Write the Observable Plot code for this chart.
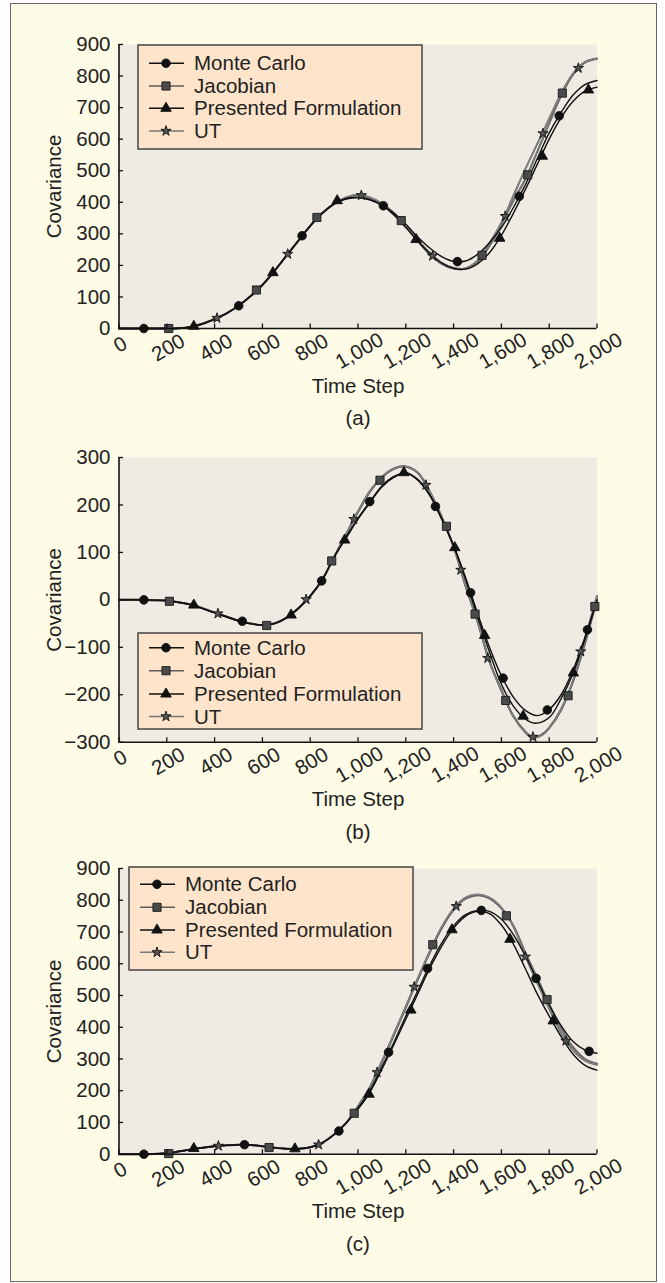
<!DOCTYPE html>
<html><head><meta charset="utf-8">
<script src="https://cdn.jsdelivr.net/npm/d3@7"></script>
<script src="https://cdn.jsdelivr.net/npm/@observablehq/plot@0.6"></script>
<style>
body{margin:0;background:#fff;}
#page{position:relative;width:665px;height:1283px;overflow:hidden;font-family:"Liberation Sans",Arial,Helvetica,sans-serif;}
#frame{position:absolute;left:10px;top:3px;width:647px;height:1279px;box-sizing:border-box;border:1.7px solid #666;background:#fefbe6;}
.panel{position:absolute;left:0;}
#overlay{position:absolute;left:0;top:0;}
</style></head><body><div id="page"><div id="frame"></div></div>
<script>
// ---------- shared ticks / labels ----------
const seriesNames = ["Monte Carlo", "Jacobian", "Presented Formulation", "UT"];
const xTicks = [0, 200, 400, 600, 800, 1000, 1200, 1400, 1600, 1800, 2000];
const aYTicks = [0, 100, 200, 300, 400, 500, 600, 700, 800, 900];
const bYTicks = [-300, -200, -100, 0, 100, 200, 300];
const cYTicks = [0, 100, 200, 300, 400, 500, 600, 700, 800, 900];
const captions = ["(a)", "(b)", "(c)"];
const xTitle = "Time Step";
const yTitle = "Covariance";

// ---------- panel (a) ----------
const aShared = [[0,0],[100,0],[200,0],[250,1],[300,5],[350,15],[400,30],[450,48],[500,72],[550,102],[600,138],[650,182],[700,230],[750,278],[800,325],[850,365],[900,395]];
const aMonteCarlo = aShared.concat([[950,412],[1000,415],[1050,408],[1100,392],[1150,365],[1200,330],[1250,290],[1300,255],[1350,228],[1400,213],[1450,214],[1500,235],[1550,272],[1600,320],[1650,383],[1700,455],[1750,538],[1800,620],[1850,685],[1900,740],[1950,773],[2000,786]]);
const aJacobian = aShared.concat([[950,414],[1000,422],[1050,413],[1100,395],[1150,365],[1200,325],[1250,280],[1300,240],[1350,208],[1400,192],[1450,190],[1500,212],[1550,262],[1600,330],[1650,405],[1700,473],[1750,560],[1800,650],[1850,738],[1900,805],[1950,843],[2000,855]]);
const aPresented = aShared.concat([[950,410],[1000,415],[1050,408],[1100,390],[1150,360],[1200,320],[1250,277],[1300,238],[1350,207],[1400,190],[1450,188],[1500,205],[1550,240],[1600,295],[1650,365],[1700,440],[1750,520],[1800,600],[1850,668],[1900,720],[1950,752],[2000,765]]);
const aUT = aShared.concat([[950,415],[1000,425],[1050,415],[1100,396],[1150,366],[1200,325],[1250,278],[1300,235],[1350,205],[1400,190],[1450,190],[1500,215],[1550,270],[1600,335],[1650,420],[1700,505],[1750,585],[1800,665],[1850,745],[1900,808],[1950,845],[2000,856]]);
const aMonteCarloMarks = [[104,0],[501,72],[766,294],[1106,389],[1416,212],[1675,419],[1842,674]];
const aJacobianMarks = [[208,0],[575,122],[828,352],[1181,342],[1519,232],[1710,487],[1855,746]];
const aPresentedMarks = [[313,7],[644,177],[913,405],[1243,282],[1593,286],[1771,546],[1964,756]];
const aUTMarks = [[410,33],[706,236],[1014,422],[1312,230],[1616,356],[1774,618],[1922,825]];

// ---------- panel (b) ----------
const bShared = [[0,0],[100,0],[200,-2],[300,-10],[400,-27],[500,-44],[550,-50],[600,-53],[650,-50],[700,-38],[750,-18],[800,8],[850,42],[900,90]];
const bMonteCarlo = bShared.concat([[950,132],[1000,172],[1050,207],[1100,240],[1150,260],[1200,268],[1250,254],[1300,222],[1350,172],[1400,115],[1450,47],[1500,-28],[1550,-100],[1600,-160],[1650,-205],[1700,-233],[1750,-244],[1800,-231],[1850,-200],[1900,-148],[1950,-78],[2000,0]]);
const bJacobian = bShared.concat([[950,138],[1000,185],[1050,228],[1100,258],[1150,276],[1190,281],[1250,268],[1300,228],[1350,175],[1400,112],[1450,30],[1500,-45],[1550,-130],[1600,-190],[1650,-245],[1700,-278],[1730,-290],[1775,-282],[1800,-270],[1850,-232],[1900,-172],[1950,-92],[2000,3]]);
const bPresented = bShared.concat([[950,130],[1000,170],[1050,205],[1100,238],[1150,258],[1200,267],[1250,252],[1300,220],[1350,170],[1400,114],[1450,43],[1500,-35],[1550,-110],[1600,-178],[1650,-224],[1700,-251],[1740,-260],[1800,-248],[1850,-208],[1900,-155],[1950,-82],[2000,-2]]);
const bUT = bShared.concat([[950,138],[1000,186],[1050,229],[1100,259],[1150,277],[1190,282],[1250,268],[1300,228],[1350,174],[1400,112],[1450,30],[1500,-45],[1550,-130],[1600,-192],[1650,-246],[1700,-279],[1730,-291],[1775,-283],[1800,-270],[1850,-230],[1900,-170],[1950,-82],[2000,8]]);
const bMonteCarloMarks = [[104,0],[516,-45],[848,40],[1049,207],[1324,197],[1471,15],[1607,-165],[1792,-232],[1960,-63]];
const bJacobianMarks = [[211,-3],[618,-54],[890,82],[1092,252],[1370,155],[1490,-30],[1618,-212],[1879,-202],[1991,-14]];
const bPresentedMarks = [[313,-11],[720,-32],[944,126],[1192,268],[1405,110],[1530,-75],[1691,-245],[1901,-154]];
const bUTMarks = [[414,-29],[783,1],[983,170],[1284,242],[1430,63],[1543,-123],[1732,-289],[1932,-109]];

// ---------- panel (c) ----------
const cShared = [[0,0],[100,0],[200,3],[300,15],[400,25],[450,28],[500,30],[550,29],[600,25],[650,20],[700,17],[750,17],[800,22],[850,36],[900,62],[950,98]];
const cMonteCarlo = cShared.concat([[1000,145],[1050,200],[1100,275],[1150,352],[1200,435],[1250,515],[1300,595],[1350,665],[1400,720],[1450,755],[1500,768],[1550,765],[1600,740],[1650,692],[1700,625],[1750,548],[1800,470],[1850,405],[1900,355],[1950,328],[2000,318]]);
const cJacobian = cShared.concat([[1000,150],[1050,210],[1100,290],[1150,375],[1200,462],[1250,550],[1300,635],[1350,712],[1400,770],[1450,805],[1500,816],[1550,806],[1600,775],[1650,720],[1700,635],[1750,555],[1800,472],[1850,397],[1900,337],[1950,300],[2000,285]]);
const cPresented = cShared.concat([[1000,142],[1050,195],[1100,268],[1150,345],[1200,425],[1250,505],[1300,585],[1350,655],[1400,712],[1450,750],[1500,765],[1550,758],[1600,722],[1650,662],[1700,585],[1750,505],[1800,435],[1850,370],[1900,315],[1950,280],[2000,265]]);
const cUT = cShared.concat([[1000,150],[1050,212],[1100,292],[1150,378],[1200,465],[1250,553],[1300,638],[1350,715],[1400,773],[1450,808],[1500,818],[1550,808],[1600,776],[1650,718],[1700,625],[1750,540],[1800,458],[1850,382],[1900,328],[1950,295],[2000,282]]);
const cMonteCarloMarks = [[104,0],[525,30],[920,73],[1128,321],[1291,585],[1516,768],[1745,554],[1967,324]];
const cJacobianMarks = [[208,2],[628,21],[984,129],[1313,660],[1621,751],[1791,487]];
const cPresentedMarks = [[313,18],[736,17],[1046,189],[1221,454],[1393,707],[1636,677],[1817,420]];
const cUTMarks = [[416,26],[835,30],[1080,258],[1235,527],[1411,781],[1700,622],[1870,357]];

// ---------- styles ----------
const FONT = "Liberation Sans, Arial, Helvetica, sans-serif";
const FS = 20.5;
const TXT = "#222";
const styles = [
  {line: "#111", lw: 1.4, inner: null, symbol: "circle", r: 4.3, fill: "#111", mstroke: "#111", legendLine: "#111"},
  {line: "#555", lw: 2.0, inner: "#9a9a9a", symbol: "square", r: 4.6, fill: "#4a4a4a", mstroke: "#1a1a1a", legendLine: "#5c5c5c"},
  {line: "#111", lw: 1.4, inner: null, symbol: "triangle", r: 3.9, fill: "#111", mstroke: "#111", legendLine: "#111"},
  {line: "#5e5e5e", lw: 2.0, inner: "#a5a5a5", symbol: "star", r: 3.2, fill: "#555", mstroke: "#111", legendLine: "#777"}
];

const panels = [
  {top: 4, plotH: 284, domain: [0, 900], yTicks: aYTicks, curves: [aMonteCarlo, aJacobian, aPresented, aUT], marks: [aMonteCarloMarks, aJacobianMarks, aPresentedMarks, aUTMarks],
   legend: {x: 138, y: 45, w: 284, h: 104, rows: [63.3, 86, 108.3, 131]}},
  {top: 417, plotH: 284.7, domain: [-300, 300], yTicks: bYTicks, curves: [bMonteCarlo, bJacobian, bPresented, bUT], marks: [bMonteCarloMarks, bJacobianMarks, bPresentedMarks, bUTMarks],
   legend: {x: 138, y: 633, w: 284, h: 96, rows: [647.7, 670.7, 694, 716.5]}},
  {top: 828, plotH: 285.7, domain: [0, 900], yTicks: cYTicks, curves: [cMonteCarlo, cJacobian, cPresented, cUT], marks: [cMonteCarloMarks, cJacobianMarks, cPresentedMarks, cUTMarks],
   legend: {x: 129, y: 867, w: 284, h: 103, rows: [884.3, 907.3, 930, 952.3]}}
];

const page = document.getElementById("page");
const fmt = d3.format(",");
const W = 665, ML = 118.5, MR = 68.5, H = 445, MT = 40;
const drawOrder = [1, 3, 0, 2];

panels.forEach((p, i) => {
  const [y0, y1] = p.domain;
  const mb = H - MT - p.plotH;
  const tickX = 4.5 * (y1 - y0) / p.plotH;
  const tickY = 4.5 * 2000 / (W - ML - MR);
  const lengths = Array.from(new Set(xTicks.map(t => fmt(t).length)));
  const lineMarks = [];
  drawOrder.forEach(k => {
    const c = p.curves[k], s = styles[k];
    lineMarks.push(Plot.line(c, {x: d => d[0], y: d => d[1], curve: "catmull-rom", stroke: s.line, strokeWidth: s.lw}));
    if (s.inner) lineMarks.push(Plot.line(c, {x: d => d[0], y: d => d[1], curve: "catmull-rom", stroke: s.inner, strokeWidth: 0.7}));
  });
  const marks = [
    Plot.frame({fill: "#efebe2"}),
    ...lineMarks,
    ...p.marks.map((m, k) => Plot.dot(m, {x: d => d[0], y: d => d[1], symbol: styles[k].symbol, r: styles[k].r, fill: styles[k].fill, stroke: styles[k].mstroke, strokeWidth: 0.9})),
    Plot.ruleX([0], {y1: y0, y2: y1, stroke: "#111", strokeWidth: 1.6}),
    Plot.ruleY([y0], {x1: 0, x2: 2000, stroke: "#111", strokeWidth: 1.6}),
    Plot.ruleY(p.yTicks, {y: d => d, x1: 0, x2: tickY, stroke: "#111", strokeWidth: 1.3}),
    Plot.ruleX(xTicks, {x: d => d, y1: y0, y2: y0 + tickX, stroke: "#111", strokeWidth: 1.3}),
    Plot.text(p.yTicks, {y: d => d, text: d => fmt(d), frameAnchor: "left", dx: -8.5, textAnchor: "end", lineAnchor: "middle", fontSize: FS, fill: TXT}),
    ...lengths.map(L => Plot.text(xTicks.filter(t => fmt(t).length === L), {x: d => d, y: y0, text: d => fmt(d), rotate: -30, dx: 1.5, dy: 14.5 + 1.6 * L, textAnchor: "middle", lineAnchor: "middle", fontSize: FS, fill: TXT})),
    Plot.text([xTitle], {frameAnchor: "bottom", dy: 64, lineAnchor: "bottom", fontSize: FS, fill: TXT}),
    Plot.text([captions[i]], {frameAnchor: "bottom", dy: 96.5, lineAnchor: "bottom", fontSize: FS, fill: TXT}),
    Plot.text([yTitle], {frameAnchor: "left", dx: -65, rotate: -90, lineAnchor: "middle", textAnchor: "middle", fontSize: FS, fill: TXT})
  ];
  const svg = Plot.plot({
    width: W, height: H,
    marginLeft: ML, marginRight: MR, marginTop: MT, marginBottom: mb,
    x: {domain: [0, 2000], axis: null},
    y: {domain: p.domain, axis: null},
    style: {background: "transparent", fontFamily: FONT, fontSize: FS + "px", color: TXT, overflow: "visible"},
    marks
  });
  svg.classList.add("panel");
  svg.style.top = p.top + "px";
  page.appendChild(svg);
});

// ---------- legends ----------
const ov = d3.select(page).append("svg").attr("id", "overlay").attr("width", W).attr("height", 1283);
const symMap = {circle: d3.symbolCircle, square: d3.symbolSquare, triangle: d3.symbolTriangle, star: d3.symbolStar};
panels.forEach(p => {
  const L = p.legend;
  const g = ov.append("g");
  g.append("rect").attr("x", L.x).attr("y", L.y).attr("width", L.w).attr("height", L.h)
    .attr("fill", "#fde4ca").attr("stroke", "#444").attr("stroke-width", 1.5);
  seriesNames.forEach((name, k) => {
    const cy = L.rows[k], s = styles[k];
    g.append("line").attr("x1", L.x + 11).attr("x2", L.x + 46).attr("y1", cy).attr("y2", cy)
      .attr("stroke", s.legendLine).attr("stroke-width", 1.5);
    g.append("path").attr("transform", `translate(${L.x + 28},${cy})`)
      .attr("d", d3.symbol().type(symMap[s.symbol]).size(Math.PI * s.r * s.r)())
      .attr("fill", s.fill).attr("stroke", s.mstroke).attr("stroke-width", 0.9);
    g.append("text").attr("x", L.x + 56).attr("y", cy).attr("dy", "0.35em")
      .attr("font-family", FONT).attr("font-size", FS).attr("fill", TXT).text(name);
  });
});
</script></body></html>
